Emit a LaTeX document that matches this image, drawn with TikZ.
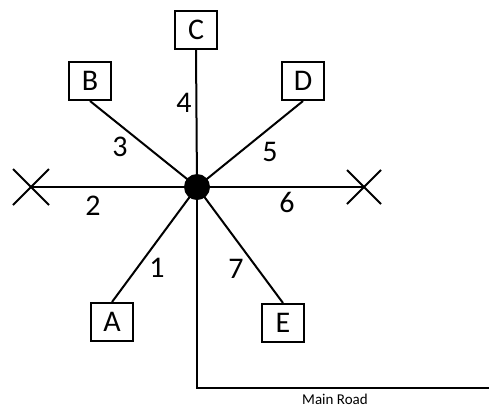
\documentclass[tikz,border=0pt]{standalone}
\usepackage{fontspec}
\setmainfont{Carlito}
\begin{document}
\begin{tikzpicture}[x=1pt,y=-1pt,
  road/.style={line width=2pt},
  lbox/.style={draw,line width=2pt,minimum width=42pt,minimum height=38pt,inner sep=0pt,font=\fontsize{30}{30}\selectfont,fill=white},
  num/.style={font=\fontsize{30}{30}\selectfont,inner sep=0pt}]
\useasboundingbox (0,0) rectangle (489,408);
\coordinate (O) at (197,187);
\coordinate (XL) at (31,187);
\coordinate (XR) at (364,187);
\coordinate (R1) at (197,388);
\coordinate (R2) at (489,388);
\node[lbox] (C) at (196,30) {C};
\node[lbox] (B) at (90,81) {B};
\node[lbox] (D) at (303,81) {D};
\node[lbox] (A) at (112,322) {A};
\node[lbox] (E) at (283,323) {E};
\draw[road] (XL) -- (XR);
\draw[road] (XL) ++(-18,-18) -- ++(36,36);
\draw[road] (XL) ++(-18,18) -- ++(36,-36);
\draw[road] (XR) ++(-17,-17) -- ++(34,34);
\draw[road] (XR) ++(-17,17) -- ++(34,-34);
\draw[road] (C.south) -- (O);
\draw[road] (B.south) -- (O);
\draw[road] (D.south) -- (O);
\draw[road] (A.north) -- (O);
\draw[road] (E.north) -- (O);
\draw[road] (O) -- (R1) -- (R2);
\fill (O) circle (13);
\node[num] (n4) at (184,103) {4};
\node[num] (n3) at (120,147) {3};
\node[num] (n5) at (270,152) {5};
\node[num] (n2) at (93,206) {2};
\node[num] (n6) at (287,202) {6};
\node[num] (n1) at (157,268) {1};
\node[num] (n7) at (236,269) {7};
\node[font=\fontsize{15}{15}\selectfont,inner sep=0pt] (mr) at (335,399) {Main Road};
\end{tikzpicture}
\end{document}
